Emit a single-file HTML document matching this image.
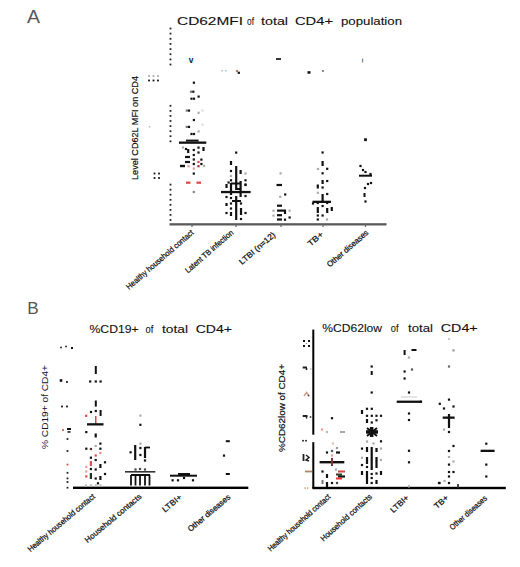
<!DOCTYPE html>
<html><head><meta charset="utf-8"><style>
html,body{margin:0;padding:0;background:#fff;width:520px;height:567px;overflow:hidden}
svg{display:block}
text{font-family:"Liberation Sans",sans-serif}
</style></head><body>
<svg width="520" height="567" viewBox="0 0 520 567">
<rect width="520" height="567" fill="#fff"/>
<text x="27" y="23" font-size="18.5" font-weight="normal" fill="#555" text-anchor="start" textLength="13" lengthAdjust="spacingAndGlyphs">A</text>
<text x="27.3" y="314" font-size="16" font-weight="normal" fill="#555" text-anchor="start" textLength="11.4" lengthAdjust="spacingAndGlyphs">B</text>
<text x="177" y="25.1" font-size="11.3" font-weight="normal" fill="#111" text-anchor="start" textLength="66" lengthAdjust="spacingAndGlyphs" stroke="#111" stroke-width="0.1">CD62MFI</text>
<text x="247" y="25.1" font-size="11.3" font-weight="normal" fill="#111" text-anchor="start" textLength="7" lengthAdjust="spacingAndGlyphs" stroke="#111" stroke-width="0.1">of</text>
<text x="261" y="25.1" font-size="11.3" font-weight="normal" fill="#111" text-anchor="start" textLength="27" lengthAdjust="spacingAndGlyphs" stroke="#111" stroke-width="0.1">total</text>
<text x="295" y="25.1" font-size="11.3" font-weight="normal" fill="#111" text-anchor="start" textLength="38" lengthAdjust="spacingAndGlyphs" stroke="#111" stroke-width="0.1">CD4+</text>
<text x="341" y="25.1" font-size="11.3" font-weight="normal" fill="#111" text-anchor="start" textLength="61" lengthAdjust="spacingAndGlyphs" stroke="#111" stroke-width="0.1">population</text>
<rect x="169.6" y="27.6" width="1.8" height="1.8" fill="#222"/>
<rect x="169.6" y="32.7" width="1.8" height="1.8" fill="#222"/>
<rect x="169.6" y="37.9" width="1.8" height="1.8" fill="#222"/>
<rect x="169.6" y="43.0" width="1.8" height="1.8" fill="#222"/>
<rect x="169.6" y="48.2" width="1.8" height="1.8" fill="#222"/>
<rect x="169.6" y="53.3" width="1.8" height="1.8" fill="#222"/>
<rect x="169.6" y="58.5" width="1.8" height="1.8" fill="#222"/>
<rect x="169.6" y="63.6" width="1.8" height="1.8" fill="#222"/>
<rect x="169.6" y="104.9" width="1.8" height="1.8" fill="#222"/>
<rect x="169.6" y="110.0" width="1.8" height="1.8" fill="#222"/>
<rect x="169.6" y="115.0" width="1.8" height="1.8" fill="#222"/>
<rect x="169.6" y="120.1" width="1.8" height="1.8" fill="#222"/>
<rect x="169.6" y="125.2" width="1.8" height="1.8" fill="#222"/>
<rect x="169.6" y="130.3" width="1.8" height="1.8" fill="#222"/>
<rect x="169.6" y="135.3" width="1.8" height="1.8" fill="#222"/>
<rect x="169.6" y="140.4" width="1.8" height="1.8" fill="#222"/>
<rect x="169.6" y="183.7" width="1.8" height="1.8" fill="#222"/>
<rect x="169.6" y="188.8" width="1.8" height="1.8" fill="#222"/>
<rect x="169.6" y="193.8" width="1.8" height="1.8" fill="#222"/>
<rect x="169.6" y="198.9" width="1.8" height="1.8" fill="#222"/>
<rect x="169.6" y="203.9" width="1.8" height="1.8" fill="#222"/>
<rect x="169.6" y="209.0" width="1.8" height="1.8" fill="#222"/>
<rect x="169.6" y="214.0" width="1.8" height="1.8" fill="#222"/>
<rect x="169.6" y="219.1" width="1.8" height="1.8" fill="#222"/>
<rect x="169.5" y="223.2" width="217.0" height="2.3" fill="#5a5a5a"/>
<rect x="191.4" y="224.0" width="1.2" height="3.0" fill="#666"/>
<rect x="235.4" y="224.0" width="1.2" height="3.0" fill="#666"/>
<rect x="280.4" y="224.0" width="1.2" height="3.0" fill="#666"/>
<rect x="322.4" y="224.0" width="1.2" height="3.0" fill="#666"/>
<rect x="364.9" y="224.0" width="1.2" height="3.0" fill="#666"/>
<text x="137.8" y="180" font-size="9.5" font-weight="normal" fill="#111" text-anchor="start" textLength="104" lengthAdjust="spacingAndGlyphs" transform="rotate(-90 137.8 180)" stroke="#111" stroke-width="0.2">Level CD62L MFI on CD4</text>
<rect x="148.1" y="75.1" width="1.8" height="1.8" fill="#aaa"/>
<rect x="152.6" y="75.1" width="1.8" height="1.8" fill="#aaa"/>
<rect x="157.1" y="75.1" width="1.8" height="1.8" fill="#aaa"/>
<rect x="148.1" y="79.6" width="1.8" height="1.8" fill="#111"/>
<rect x="152.6" y="79.6" width="1.8" height="1.8" fill="#111"/>
<rect x="157.1" y="79.6" width="1.8" height="1.8" fill="#111"/>
<rect x="153.6" y="172.6" width="1.8" height="1.8" fill="#111"/>
<rect x="158.1" y="172.6" width="1.8" height="1.8" fill="#111"/>
<rect x="153.6" y="177.1" width="1.8" height="1.8" fill="#111"/>
<rect x="158.1" y="177.1" width="1.8" height="1.8" fill="#111"/>
<rect x="148.8" y="126.0" width="1.5" height="1.5" fill="#bbb"/>
<text x="191" y="62.5" font-size="8.5" font-weight="bold" fill="#123" text-anchor="middle">v</text>
<rect x="221.2" y="70.0" width="1.5" height="1.5" fill="#bbb"/>
<rect x="225.2" y="70.0" width="1.5" height="1.5" fill="#9cc"/>
<rect x="235.9" y="69.9" width="2.2" height="2.2" fill="#a86"/>
<rect x="237.7" y="71.7" width="2.2" height="2.2" fill="#111"/>
<rect x="276.0" y="58.1" width="5.0" height="1.8" fill="#222"/>
<rect x="307.5" y="71.2" width="3.0" height="2.5" fill="#111"/>
<rect x="322.2" y="70.2" width="1.5" height="1.5" fill="#333"/>
<rect x="361.9" y="58.5" width="1.3" height="4.0" fill="#7788aa"/>
<rect x="192.8" y="81.6" width="2.2" height="2.2" fill="#111"/>
<rect x="192.2" y="90.6" width="2.2" height="2.2" fill="#111"/>
<rect x="189.9" y="90.6" width="2.2" height="2.2" fill="#777"/>
<rect x="197.5" y="95.5" width="2.2" height="2.2" fill="#111"/>
<rect x="190.4" y="97.6" width="2.2" height="2.2" fill="#111"/>
<rect x="192.9" y="97.6" width="2.2" height="2.2" fill="#111"/>
<rect x="187.9" y="109.5" width="2.2" height="2.2" fill="#111"/>
<rect x="185.7" y="109.5" width="2.2" height="2.2" fill="#777"/>
<rect x="197.5" y="111.7" width="2.2" height="2.2" fill="#aaa"/>
<rect x="201.4" y="109.4" width="2.2" height="2.2" fill="#ddd"/>
<rect x="192.8" y="118.9" width="2.2" height="2.2" fill="#111"/>
<rect x="187.9" y="125.8" width="2.2" height="2.2" fill="#111"/>
<rect x="185.7" y="125.8" width="2.2" height="2.2" fill="#777"/>
<rect x="201.4" y="123.5" width="2.2" height="2.2" fill="#ddd"/>
<rect x="197.5" y="130.3" width="2.2" height="2.2" fill="#aaa"/>
<rect x="190.4" y="132.9" width="2.2" height="2.2" fill="#111"/>
<rect x="192.9" y="132.9" width="2.2" height="2.2" fill="#111"/>
<rect x="181.9" y="146.4" width="2.2" height="2.2" fill="#aaa"/>
<rect x="184.9" y="147.9" width="2.2" height="2.2" fill="#111"/>
<rect x="192.7" y="148.9" width="2.2" height="2.2" fill="#111"/>
<rect x="197.4" y="146.5" width="2.2" height="2.2" fill="#111"/>
<rect x="192.7" y="153.9" width="2.2" height="2.2" fill="#111"/>
<rect x="197.4" y="151.4" width="2.2" height="2.2" fill="#111"/>
<rect x="192.7" y="158.4" width="2.2" height="2.2" fill="#111"/>
<rect x="200.3" y="158.5" width="2.2" height="2.2" fill="#111"/>
<rect x="197.4" y="160.9" width="2.2" height="2.2" fill="#e0483c"/>
<rect x="192.7" y="162.9" width="2.2" height="2.2" fill="#111"/>
<rect x="200.3" y="162.9" width="2.2" height="2.2" fill="#111"/>
<rect x="187.4" y="165.1" width="2.2" height="2.2" fill="#e99"/>
<rect x="192.7" y="167.5" width="2.2" height="2.2" fill="#e99"/>
<rect x="197.4" y="165.1" width="2.2" height="2.2" fill="#933"/>
<rect x="202.9" y="164.9" width="2.2" height="2.2" fill="#9b9"/>
<rect x="192.7" y="172.5" width="2.2" height="2.2" fill="#111"/>
<rect x="192.7" y="190.9" width="2.2" height="2.2" fill="#888"/>
<rect x="187.1" y="149.0" width="2.2" height="4.0" fill="#111"/>
<rect x="202.4" y="147.0" width="2.2" height="4.0" fill="#111"/>
<rect x="185.0" y="155.9" width="5.0" height="2.2" fill="#111"/>
<rect x="185.0" y="160.9" width="5.0" height="2.2" fill="#111"/>
<rect x="180.0" y="164.8" width="5.0" height="2.4" fill="#111"/>
<rect x="186.0" y="181.6" width="4.5" height="2.2" fill="#e0483c"/>
<rect x="196.5" y="181.6" width="4.5" height="2.2" fill="#e0483c"/>
<rect x="179.0" y="141.5" width="27.3" height="2.3" fill="#111"/>
<rect x="186.0" y="139.6" width="12.6" height="2" fill="#111"/>
<rect x="235.1" y="151.5" width="2.2" height="2.2" fill="#111"/>
<rect x="229.9" y="169.9" width="2.2" height="2.2" fill="#111"/>
<rect x="244.4" y="172.4" width="2.2" height="2.2" fill="#aaa"/>
<rect x="229.9" y="174.9" width="2.2" height="2.2" fill="#aaa"/>
<rect x="229.9" y="179.2" width="2.2" height="2.2" fill="#111"/>
<rect x="244.4" y="179.2" width="2.2" height="2.2" fill="#111"/>
<rect x="227.5" y="181.4" width="2.2" height="2.2" fill="#111"/>
<rect x="244.4" y="183.9" width="2.2" height="2.2" fill="#111"/>
<rect x="244.4" y="183.4" width="2.2" height="2.2" fill="#111"/>
<rect x="229.9" y="202.4" width="2.2" height="2.2" fill="#111"/>
<rect x="239.9" y="202.4" width="2.2" height="2.2" fill="#111"/>
<rect x="229.9" y="207.4" width="2.2" height="2.2" fill="#111"/>
<rect x="225.4" y="211.9" width="2.2" height="2.2" fill="#111"/>
<rect x="244.4" y="211.9" width="2.2" height="2.2" fill="#111"/>
<rect x="239.9" y="217.9" width="2.2" height="2.2" fill="#111"/>
<rect x="225.4" y="195.9" width="2.2" height="2.2" fill="#111"/>
<rect x="244.4" y="194.9" width="2.2" height="2.2" fill="#111"/>
<rect x="229.9" y="196.9" width="2.2" height="2.2" fill="#111"/>
<rect x="229.9" y="161.0" width="2.2" height="4.0" fill="#111"/>
<rect x="235.1" y="166.0" width="2.2" height="24.0" fill="#111"/>
<rect x="239.5" y="170.0" width="2.2" height="4.0" fill="#111"/>
<rect x="225.4" y="184.0" width="2.2" height="4.0" fill="#111"/>
<rect x="229.9" y="183.0" width="2.2" height="12.0" fill="#111"/>
<rect x="239.5" y="181.0" width="2.2" height="16.0" fill="#111"/>
<rect x="231.0" y="182.5" width="10.0" height="2" fill="#111"/>
<rect x="236.0" y="188.0" width="5.0" height="2" fill="#111"/>
<rect x="235.1" y="196.0" width="2.2" height="24.0" fill="#111"/>
<rect x="232.0" y="200.0" width="9.0" height="2" fill="#111"/>
<rect x="225.4" y="203.0" width="2.2" height="3.0" fill="#111"/>
<rect x="239.9" y="208.0" width="2.2" height="7.0" fill="#111"/>
<rect x="229.9" y="212.0" width="2.2" height="4.0" fill="#111"/>
<rect x="221.0" y="190.9" width="29.6" height="2.3" fill="#111"/>
<rect x="279.5" y="172.3" width="2.2" height="2.2" fill="#aaa"/>
<rect x="284.1" y="193.4" width="2.2" height="2.2" fill="#111"/>
<rect x="279.1" y="195.7" width="2.2" height="2.2" fill="#aaa"/>
<rect x="272.4" y="209.6" width="2.2" height="2.2" fill="#aaa"/>
<rect x="288.5" y="209.6" width="2.2" height="2.2" fill="#aaa"/>
<rect x="272.4" y="214.5" width="2.2" height="2.2" fill="#aaa"/>
<rect x="288.5" y="216.4" width="2.2" height="2.2" fill="#111"/>
<rect x="283.9" y="218.6" width="2.2" height="2.2" fill="#111"/>
<rect x="276.5" y="183.9" width="5.5" height="2.2" fill="#111"/>
<rect x="277.0" y="204.6" width="5.0" height="2.2" fill="#111"/>
<rect x="277.0" y="209.5" width="9.0" height="2.2" fill="#111"/>
<rect x="283.9" y="210.0" width="2.2" height="4.0" fill="#111"/>
<rect x="277.0" y="214.1" width="5.0" height="2.2" fill="#111"/>
<rect x="277.0" y="218.4" width="5.0" height="2.2" fill="#111"/>
<rect x="321.5" y="151.4" width="2.2" height="2.2" fill="#111"/>
<rect x="316.9" y="167.9" width="2.2" height="2.2" fill="#aaa"/>
<rect x="326.1" y="167.7" width="2.2" height="2.2" fill="#111"/>
<rect x="321.5" y="172.2" width="2.2" height="2.2" fill="#111"/>
<rect x="326.1" y="179.9" width="2.2" height="2.2" fill="#111"/>
<rect x="321.5" y="186.4" width="2.2" height="2.2" fill="#111"/>
<rect x="316.7" y="191.7" width="2.2" height="2.2" fill="#aaa"/>
<rect x="326.1" y="192.9" width="2.2" height="2.2" fill="#111"/>
<rect x="311.9" y="202.4" width="2.2" height="2.2" fill="#111"/>
<rect x="316.7" y="201.9" width="2.2" height="2.2" fill="#111"/>
<rect x="326.1" y="201.9" width="2.2" height="2.2" fill="#111"/>
<rect x="321.5" y="204.9" width="2.2" height="2.2" fill="#111"/>
<rect x="316.7" y="214.4" width="2.2" height="2.2" fill="#111"/>
<rect x="321.5" y="214.4" width="2.2" height="2.2" fill="#111"/>
<rect x="316.7" y="218.4" width="2.2" height="2.2" fill="#111"/>
<rect x="325.9" y="218.4" width="2.2" height="2.2" fill="#aaa"/>
<rect x="321.5" y="161.0" width="2.2" height="5.0" fill="#111"/>
<rect x="321.5" y="180.0" width="2.2" height="4.0" fill="#111"/>
<rect x="316.7" y="184.5" width="2.2" height="4.0" fill="#111"/>
<rect x="321.5" y="194.0" width="2.2" height="7.0" fill="#111"/>
<rect x="316.7" y="207.0" width="2.2" height="6.0" fill="#111"/>
<rect x="326.1" y="208.0" width="2.2" height="5.0" fill="#111"/>
<rect x="330.7" y="207.0" width="2.2" height="4.0" fill="#111"/>
<rect x="312.5" y="200.7" width="18.5" height="2.3" fill="#111"/>
<rect x="364.1" y="138.3" width="2.8" height="2.8" fill="#111"/>
<rect x="359.4" y="164.9" width="2.2" height="2.2" fill="#111"/>
<rect x="361.9" y="168.9" width="2.2" height="2.2" fill="#111"/>
<rect x="364.4" y="170.9" width="2.2" height="2.2" fill="#111"/>
<rect x="369.4" y="172.9" width="2.2" height="2.2" fill="#111"/>
<rect x="366.9" y="182.9" width="2.2" height="2.2" fill="#111"/>
<rect x="369.9" y="181.9" width="2.2" height="2.2" fill="#111"/>
<rect x="363.9" y="186.9" width="2.2" height="2.2" fill="#111"/>
<rect x="364.4" y="200.4" width="2.2" height="2.2" fill="#111"/>
<rect x="363.5" y="193.0" width="2" height="4.0" fill="#111"/>
<rect x="359.0" y="174.7" width="13.0" height="2" fill="#111"/>
<text x="194" y="233.5" font-size="8" font-weight="normal" fill="#111" text-anchor="end" textLength="86" lengthAdjust="spacingAndGlyphs" transform="rotate(-41 194 233.5)" stroke="#111" stroke-width="0.25">Healthy household contact</text>
<text x="234" y="233.5" font-size="8" font-weight="normal" fill="#111" text-anchor="end" textLength="61" lengthAdjust="spacingAndGlyphs" transform="rotate(-41 234 233.5)" stroke="#111" stroke-width="0.25">Latent TB infection</text>
<text x="276" y="235.5" font-size="8" font-weight="normal" fill="#111" text-anchor="end" textLength="45" lengthAdjust="spacingAndGlyphs" transform="rotate(-41 276 235.5)" stroke="#111" stroke-width="0.25">LTBI (n=12)</text>
<text x="324" y="235" font-size="8" font-weight="normal" fill="#111" text-anchor="end" textLength="18" lengthAdjust="spacingAndGlyphs" transform="rotate(-41 324 235)" stroke="#111" stroke-width="0.25">TB+</text>
<text x="369" y="233.5" font-size="8" font-weight="normal" fill="#111" text-anchor="end" textLength="52" lengthAdjust="spacingAndGlyphs" transform="rotate(-41 369 233.5)" stroke="#111" stroke-width="0.25">Other diseases</text>
<text x="89.5" y="332.5" font-size="10.6" font-weight="normal" fill="#111" text-anchor="start" textLength="49.099999999999994" lengthAdjust="spacingAndGlyphs" stroke="#111" stroke-width="0.1">%CD19+</text>
<text x="145.5" y="332.5" font-size="10.6" font-weight="normal" fill="#111" text-anchor="start" textLength="7.800000000000011" lengthAdjust="spacingAndGlyphs" stroke="#111" stroke-width="0.1">of</text>
<text x="162" y="332.5" font-size="10.6" font-weight="normal" fill="#111" text-anchor="start" textLength="26" lengthAdjust="spacingAndGlyphs" stroke="#111" stroke-width="0.1">total</text>
<text x="195.7" y="332.5" font-size="10.6" font-weight="normal" fill="#111" text-anchor="start" textLength="36.30000000000001" lengthAdjust="spacingAndGlyphs" stroke="#111" stroke-width="0.1">CD4+</text>
<text x="47.6" y="449" font-size="9.5" font-weight="normal" fill="#113" text-anchor="start" textLength="84" lengthAdjust="spacingAndGlyphs" transform="rotate(-90 47.6 449)">% CD19+ of CD4+</text>
<rect x="60.2" y="346.7" width="1.6" height="1.6" fill="#111"/>
<rect x="65.2" y="345.7" width="1.6" height="1.6" fill="#111"/>
<rect x="71.0" y="347.0" width="2.0" height="2.0" fill="#111"/>
<rect x="59.7" y="379.2" width="2.6" height="2.6" fill="#111"/>
<rect x="66.1" y="381.1" width="1.8" height="1.8" fill="#111"/>
<rect x="61.1" y="405.6" width="1.8" height="1.8" fill="#111"/>
<rect x="66.1" y="405.6" width="1.8" height="1.8" fill="#111"/>
<rect x="62.1" y="429.1" width="1.8" height="1.8" fill="#e0483c"/>
<rect x="67.0" y="428.0" width="4.0" height="2.0" fill="#111"/>
<rect x="67.5" y="431.2" width="3.0" height="1.5" fill="#111"/>
<rect x="66.6" y="438.1" width="1.8" height="1.8" fill="#222"/>
<rect x="66.6" y="450.1" width="1.8" height="1.8" fill="#222"/>
<rect x="66.6" y="463.7" width="1.8" height="1.8" fill="#e0483c"/>
<rect x="66.6" y="471.9" width="1.8" height="1.8" fill="#222"/>
<rect x="66.6" y="477.5" width="1.8" height="1.8" fill="#222"/>
<rect x="66.6" y="481.1" width="1.8" height="1.8" fill="#222"/>
<rect x="66.6" y="486.8" width="1.8" height="1.8" fill="#222"/>
<rect x="73.0" y="486.6" width="175.3" height="2.4" fill="#000"/>
<rect x="89.1" y="380.4" width="2.2" height="2.2" fill="#111"/>
<rect x="94.7" y="380.4" width="2.2" height="2.2" fill="#111"/>
<rect x="99.5" y="380.4" width="2.2" height="2.2" fill="#111"/>
<rect x="85.1" y="414.7" width="2.2" height="2.2" fill="#e0483c"/>
<rect x="85.2" y="431.0" width="2.2" height="2.2" fill="#111"/>
<rect x="99.3" y="442.5" width="2.2" height="2.2" fill="#111"/>
<rect x="85.2" y="447.6" width="2.2" height="2.2" fill="#111"/>
<rect x="89.8" y="447.9" width="2.2" height="2.2" fill="#533"/>
<rect x="94.6" y="444.9" width="2.2" height="2.2" fill="#aaa"/>
<rect x="99.3" y="447.6" width="2.2" height="2.2" fill="#111"/>
<rect x="99.3" y="451.9" width="2.2" height="2.2" fill="#e88"/>
<rect x="94.6" y="454.4" width="2.2" height="2.2" fill="#e0483c"/>
<rect x="89.8" y="456.6" width="2.2" height="2.2" fill="#111"/>
<rect x="94.6" y="458.9" width="2.2" height="2.2" fill="#111"/>
<rect x="103.9" y="461.2" width="2.2" height="2.2" fill="#111"/>
<rect x="85.2" y="465.9" width="2.2" height="2.2" fill="#e99"/>
<rect x="89.8" y="467.9" width="2.2" height="2.2" fill="#111"/>
<rect x="94.6" y="468.4" width="2.2" height="2.2" fill="#111"/>
<rect x="85.2" y="470.4" width="2.2" height="2.2" fill="#e99"/>
<rect x="85.2" y="475.3" width="2.2" height="2.2" fill="#e0483c"/>
<rect x="94.6" y="477.4" width="2.2" height="2.2" fill="#111"/>
<rect x="103.9" y="472.9" width="2.2" height="2.2" fill="#111"/>
<rect x="96.9" y="482.2" width="2.2" height="2.2" fill="#111"/>
<rect x="84.9" y="484.4" width="2.2" height="2.2" fill="#bbb"/>
<rect x="89.9" y="484.4" width="2.2" height="2.2" fill="#bbb"/>
<rect x="94.9" y="484.4" width="2.2" height="2.2" fill="#bbb"/>
<rect x="99.4" y="484.4" width="2.2" height="2.2" fill="#bbb"/>
<rect x="94.8" y="366.0" width="2" height="8.0" fill="#111"/>
<rect x="94.8" y="400.5" width="2" height="6.1" fill="#111"/>
<rect x="99.6" y="410.0" width="2" height="6.0" fill="#111"/>
<rect x="95.0" y="416.0" width="1.5" height="9.0" fill="#e0483c"/>
<rect x="94.6" y="433.5" width="2.2" height="4.0" fill="#111"/>
<rect x="89.8" y="461.0" width="2.2" height="5.0" fill="#d55"/>
<rect x="99.3" y="464.0" width="2.2" height="4.0" fill="#111"/>
<rect x="89.8" y="473.0" width="2.2" height="6.0" fill="#132"/>
<rect x="99.3" y="476.0" width="2.2" height="4.0" fill="#111"/>
<rect x="89.9" y="410.9" width="2.2" height="2.2" fill="#111"/>
<rect x="94.7" y="409.9" width="2.2" height="2.2" fill="#111"/>
<rect x="87.0" y="423.2" width="16.5" height="2.3" fill="#111"/>
<rect x="139.3" y="423.7" width="2.2" height="2.2" fill="#111"/>
<rect x="139.3" y="414.5" width="2.2" height="2.2" fill="#aaa"/>
<rect x="139.3" y="442.5" width="2.2" height="2.2" fill="#aaa"/>
<rect x="129.5" y="451.2" width="2.2" height="2.2" fill="#111"/>
<rect x="139.3" y="446.9" width="2.2" height="2.2" fill="#111"/>
<rect x="139.3" y="453.9" width="2.2" height="2.2" fill="#111"/>
<rect x="143.9" y="459.4" width="2.2" height="2.2" fill="#111"/>
<rect x="134.4" y="468.4" width="2.2" height="2.2" fill="#444"/>
<rect x="138.9" y="467.9" width="2.2" height="2.2" fill="#444"/>
<rect x="143.9" y="468.4" width="2.2" height="2.2" fill="#444"/>
<rect x="134.1" y="445.0" width="2.2" height="15.0" fill="#111"/>
<rect x="143.9" y="447.0" width="2.2" height="11.0" fill="#111"/>
<rect x="145.0" y="446.6" width="5.0" height="1.8" fill="#111"/>
<rect x="125.0" y="471.0" width="30.3" height="1.6" fill="#333"/>
<rect x="131.0" y="474.0" width="19.0" height="2" fill="#111"/>
<rect x="130.1" y="475.0" width="1.8" height="10.5" fill="#111"/>
<rect x="134.6" y="475.0" width="1.8" height="10.5" fill="#111"/>
<rect x="139.1" y="475.0" width="1.8" height="10.5" fill="#111"/>
<rect x="144.1" y="475.0" width="1.8" height="10.5" fill="#111"/>
<rect x="148.6" y="475.0" width="1.8" height="10.5" fill="#111"/>
<rect x="171.5" y="479.2" width="2.2" height="2.2" fill="#111"/>
<rect x="176.9" y="479.2" width="2.2" height="2.2" fill="#111"/>
<rect x="191.9" y="479.2" width="2.2" height="2.2" fill="#111"/>
<rect x="182.9" y="476.9" width="2.2" height="2.2" fill="#111"/>
<rect x="170.0" y="474.7" width="27.0" height="2" fill="#111"/>
<rect x="178.0" y="473.0" width="12.0" height="2" fill="#111"/>
<rect x="225.8" y="440.2" width="4.0" height="2.0" fill="#111"/>
<rect x="222.9" y="454.5" width="2.2" height="2.2" fill="#111"/>
<rect x="225.8" y="473.0" width="4.0" height="2.0" fill="#111"/>
<text x="95.5" y="497.5" font-size="8" font-weight="normal" fill="#111" text-anchor="end" textLength="85" lengthAdjust="spacingAndGlyphs" transform="rotate(-40 95.5 497.5)" stroke="#111" stroke-width="0.25">Healthy household contact</text>
<text x="142" y="497.5" font-size="8" font-weight="normal" fill="#111" text-anchor="end" textLength="71" lengthAdjust="spacingAndGlyphs" transform="rotate(-40 142 497.5)" stroke="#111" stroke-width="0.25">Household contacts</text>
<text x="182.5" y="498" font-size="8" font-weight="normal" fill="#111" text-anchor="end" textLength="23" lengthAdjust="spacingAndGlyphs" transform="rotate(-40 182.5 498)" stroke="#111" stroke-width="0.25">LTBI+</text>
<text x="231" y="498" font-size="8" font-weight="normal" fill="#111" text-anchor="end" textLength="53" lengthAdjust="spacingAndGlyphs" transform="rotate(-40 231 498)" stroke="#111" stroke-width="0.25">Other diseases</text>
<text x="322.3" y="332.3" font-size="10.6" font-weight="normal" fill="#111" text-anchor="start" textLength="59.69999999999999" lengthAdjust="spacingAndGlyphs" stroke="#111" stroke-width="0.1">%CD62low</text>
<text x="390.7" y="332.3" font-size="10.6" font-weight="normal" fill="#111" text-anchor="start" textLength="7.800000000000011" lengthAdjust="spacingAndGlyphs" stroke="#111" stroke-width="0.1">of</text>
<text x="408" y="332.3" font-size="10.6" font-weight="normal" fill="#111" text-anchor="start" textLength="25" lengthAdjust="spacingAndGlyphs" stroke="#111" stroke-width="0.1">total</text>
<text x="440.8" y="332.3" font-size="10.6" font-weight="normal" fill="#111" text-anchor="start" textLength="36.89999999999998" lengthAdjust="spacingAndGlyphs" stroke="#111" stroke-width="0.1">CD4+</text>
<text x="285" y="452" font-size="9.5" font-weight="normal" fill="#111" text-anchor="start" textLength="88" lengthAdjust="spacingAndGlyphs" transform="rotate(-90 285 452)" stroke="#111" stroke-width="0.2">%CD62low of CD4+</text>
<rect x="312.3" y="329.6" width="2" height="105.1" fill="#000"/>
<rect x="312.3" y="442.2" width="2" height="45.8" fill="#000"/>
<rect x="312.3" y="486.8" width="193.5" height="2.4" fill="#000"/>
<rect x="408.4" y="485.0" width="1.2" height="3.0" fill="#999"/>
<rect x="457.2" y="484.0" width="1.6" height="4.0" fill="#222"/>
<rect x="303.0" y="340.0" width="2.0" height="2.0" fill="#111"/>
<rect x="308.0" y="340.0" width="2.0" height="2.0" fill="#111"/>
<rect x="303.0" y="345.0" width="2.0" height="2.0" fill="#111"/>
<rect x="308.0" y="345.0" width="2.0" height="2.0" fill="#111"/>
<rect x="305.9" y="342.9" width="1.2" height="1.2" fill="#888"/>
<rect x="302.7" y="366.5" width="4.3" height="2" fill="#222"/>
<rect x="305.8" y="368.0" width="1.5" height="2.0" fill="#222"/>
<rect x="310.2" y="368.4" width="1.2" height="1.2" fill="#999"/>
<path d="M304 396 L306.5 392.5 L309 396" stroke="#c98" stroke-width="1.4" fill="none"/>
<rect x="307.8" y="394.8" width="1.5" height="1.5" fill="#444"/>
<rect x="302.7" y="415.0" width="4.8" height="2" fill="#222"/>
<rect x="305.8" y="416.5" width="1.5" height="2.0" fill="#222"/>
<rect x="309.7" y="416.2" width="1.6" height="1.6" fill="#333"/>
<rect x="302.2" y="439.9" width="1.6" height="1.6" fill="#111"/>
<rect x="305.2" y="439.9" width="1.6" height="1.6" fill="#111"/>
<rect x="302.6" y="454.0" width="1.8" height="7.0" fill="#222"/>
<path d="M306 455 L309 457.5 L306 460 L309 461" stroke="#222" stroke-width="1.5" fill="none"/>
<rect x="305.0" y="470.6" width="7.0" height="1.8" fill="#a86"/>
<rect x="304.4" y="487.4" width="1.3" height="1.3" fill="#b86"/>
<rect x="306.9" y="487.4" width="1.3" height="1.3" fill="#b86"/>
<rect x="330.9" y="417.1" width="2.2" height="2.2" fill="#111"/>
<rect x="320.9" y="428.4" width="2.2" height="2.2" fill="#e99"/>
<rect x="325.9" y="430.9" width="2.2" height="2.2" fill="#bbb"/>
<rect x="331.9" y="442.4" width="2.2" height="2.2" fill="#dbb"/>
<rect x="335.9" y="446.9" width="2.2" height="2.2" fill="#999"/>
<rect x="325.9" y="451.4" width="2.2" height="2.2" fill="#111"/>
<rect x="330.9" y="449.9" width="2.2" height="2.2" fill="#555"/>
<rect x="330.9" y="454.4" width="2.2" height="2.2" fill="#e99"/>
<rect x="321.4" y="470.4" width="2.2" height="2.2" fill="#111"/>
<rect x="334.9" y="468.5" width="2.2" height="2.2" fill="#aaa"/>
<rect x="330.9" y="481.9" width="2.2" height="2.2" fill="#111"/>
<rect x="335.9" y="481.9" width="2.2" height="2.2" fill="#444"/>
<rect x="340.0" y="431.0" width="5.0" height="2" fill="#aaa"/>
<rect x="336.0" y="451.4" width="4.0" height="2.2" fill="#111"/>
<rect x="319.6" y="461.0" width="24.7" height="2.4" fill="#111"/>
<rect x="331.0" y="458.0" width="2" height="8.0" fill="#833"/>
<rect x="325.9" y="474.0" width="2.2" height="4.0" fill="#111"/>
<rect x="338.0" y="470.5" width="7.0" height="2" fill="#d44"/>
<rect x="336.0" y="473.5" width="6.0" height="2" fill="#242"/>
<rect x="338.0" y="475.4" width="7.0" height="2.2" fill="#111"/>
<rect x="336.0" y="477.5" width="6.0" height="2" fill="#e33"/>
<rect x="321.5" y="480.0" width="2" height="4.0" fill="#777"/>
<rect x="325.9" y="482.0" width="2.2" height="5.0" fill="#111"/>
<rect x="370.6" y="365.4" width="2.2" height="2.2" fill="#111"/>
<rect x="370.6" y="391.4" width="2.2" height="2.2" fill="#111"/>
<rect x="365.9" y="407.7" width="2.2" height="2.2" fill="#111"/>
<rect x="370.7" y="407.7" width="2.2" height="2.2" fill="#111"/>
<rect x="365.9" y="414.7" width="2.2" height="2.2" fill="#111"/>
<rect x="370.7" y="414.7" width="2.2" height="2.2" fill="#111"/>
<rect x="375.4" y="414.7" width="2.2" height="2.2" fill="#111"/>
<rect x="379.9" y="414.7" width="2.2" height="2.2" fill="#111"/>
<rect x="370.7" y="421.4" width="2.2" height="2.2" fill="#111"/>
<rect x="375.4" y="419.2" width="2.2" height="2.2" fill="#111"/>
<rect x="365.9" y="440.4" width="2.2" height="2.2" fill="#aaa"/>
<rect x="379.9" y="440.2" width="2.2" height="2.2" fill="#111"/>
<rect x="372.4" y="442.4" width="2.2" height="2.2" fill="#aaa"/>
<rect x="360.9" y="447.5" width="2.2" height="2.2" fill="#111"/>
<rect x="379.9" y="447.5" width="2.2" height="2.2" fill="#aaa"/>
<rect x="360.9" y="456.7" width="2.2" height="2.2" fill="#aaa"/>
<rect x="379.9" y="458.9" width="2.2" height="2.2" fill="#aaa"/>
<rect x="360.9" y="463.9" width="2.2" height="2.2" fill="#111"/>
<rect x="365.9" y="465.9" width="2.2" height="2.2" fill="#111"/>
<rect x="370.6" y="472.9" width="2.2" height="2.2" fill="#111"/>
<rect x="370.6" y="476.9" width="2.2" height="2.2" fill="#111"/>
<rect x="370.6" y="481.9" width="2.2" height="2.2" fill="#111"/>
<rect x="375.4" y="472.4" width="2.2" height="2.2" fill="#111"/>
<rect x="370.7" y="371.0" width="2" height="4.0" fill="#111"/>
<rect x="360.9" y="410.0" width="2.2" height="4.0" fill="#111"/>
<rect x="365.9" y="419.0" width="2.2" height="4.0" fill="#111"/>
<rect x="365.9" y="447.0" width="2.2" height="5.0" fill="#111"/>
<rect x="370.6" y="447.0" width="2.2" height="23.0" fill="#111"/>
<rect x="375.4" y="448.0" width="2.2" height="4.0" fill="#111"/>
<rect x="365.9" y="457.0" width="2.2" height="7.0" fill="#111"/>
<rect x="375.4" y="457.0" width="2.2" height="11.0" fill="#111"/>
<rect x="360.9" y="471.0" width="2.2" height="4.0" fill="#111"/>
<rect x="365.9" y="471.0" width="2.2" height="13.0" fill="#111"/>
<rect x="379.9" y="471.0" width="2.2" height="4.0" fill="#111"/>
<rect x="375.4" y="480.0" width="2.2" height="4.0" fill="#111"/>
<rect x="366.0" y="430.2" width="12.0" height="3.5" fill="#111"/>
<rect x="369.9" y="427.0" width="3.5" height="10.0" fill="#111"/>
<path d="M367 428 L377 436 M377 428 L367 436" stroke="#111" stroke-width="2"/>
<rect x="411.5" y="349.0" width="5.0" height="2.0" fill="#111"/>
<rect x="407.9" y="356.4" width="2.2" height="2.2" fill="#aaa"/>
<rect x="403.5" y="370.4" width="2.2" height="2.2" fill="#111"/>
<rect x="410.9" y="368.4" width="2.2" height="2.2" fill="#555"/>
<rect x="403.5" y="377.4" width="2.2" height="2.2" fill="#111"/>
<rect x="407.9" y="391.4" width="2.2" height="2.2" fill="#111"/>
<rect x="407.9" y="412.4" width="2.2" height="2.2" fill="#111"/>
<rect x="407.9" y="418.9" width="2.2" height="2.2" fill="#111"/>
<rect x="407.9" y="449.7" width="2.2" height="2.2" fill="#111"/>
<rect x="407.9" y="461.2" width="2.2" height="2.2" fill="#111"/>
<rect x="403.6" y="350.0" width="2" height="5.0" fill="#111"/>
<rect x="396.7" y="400.6" width="25.0" height="2.3" fill="#111"/>
<rect x="401.0" y="396.5" width="16.0" height="1" fill="#ccc"/>
<rect x="452.4" y="349.3" width="2.2" height="2.2" fill="#999"/>
<rect x="447.9" y="365.4" width="2.2" height="2.2" fill="#666"/>
<rect x="447.9" y="337.9" width="2.2" height="2.2" fill="#ccc"/>
<rect x="447.9" y="398.5" width="2.2" height="2.2" fill="#111"/>
<rect x="438.7" y="402.7" width="2.2" height="2.2" fill="#111"/>
<rect x="442.9" y="407.4" width="2.2" height="2.2" fill="#111"/>
<rect x="452.4" y="405.4" width="2.2" height="2.2" fill="#111"/>
<rect x="419.9" y="400.6" width="2.2" height="2.2" fill="#111"/>
<rect x="442.9" y="428.5" width="2.2" height="2.2" fill="#aaa"/>
<rect x="447.9" y="430.9" width="2.2" height="2.2" fill="#111"/>
<rect x="452.4" y="444.9" width="2.2" height="2.2" fill="#111"/>
<rect x="447.9" y="449.9" width="2.2" height="2.2" fill="#111"/>
<rect x="447.9" y="455.9" width="2.2" height="2.2" fill="#aaa"/>
<rect x="452.4" y="460.4" width="2.2" height="2.2" fill="#aaa"/>
<rect x="447.9" y="463.5" width="2.2" height="2.2" fill="#111"/>
<rect x="447.9" y="470.9" width="2.2" height="2.2" fill="#111"/>
<rect x="452.4" y="470.9" width="2.2" height="2.2" fill="#111"/>
<rect x="447.9" y="475.4" width="2.2" height="2.2" fill="#111"/>
<rect x="438.4" y="481.9" width="2.2" height="2.2" fill="#111"/>
<rect x="443.4" y="479.9" width="2.2" height="2.2" fill="#aaa"/>
<rect x="447.9" y="481.9" width="2.2" height="2.2" fill="#111"/>
<rect x="437.9" y="481.9" width="2.2" height="2.2" fill="#111"/>
<rect x="442.7" y="416.5" width="11.9" height="2.3" fill="#111"/>
<rect x="447.9" y="414.0" width="2.2" height="14.0" fill="#111"/>
<rect x="485.2" y="442.6" width="2.2" height="2.2" fill="#111"/>
<rect x="485.2" y="463.5" width="2.2" height="2.2" fill="#111"/>
<rect x="485.2" y="475.4" width="2.2" height="2.2" fill="#111"/>
<rect x="480.6" y="449.7" width="14.0" height="2.3" fill="#111"/>
<text x="331" y="497.5" font-size="8" font-weight="normal" fill="#111" text-anchor="end" textLength="81" lengthAdjust="spacingAndGlyphs" transform="rotate(-42 331 497.5)" stroke="#111" stroke-width="0.25">Healthy household contact</text>
<text x="372.5" y="497.5" font-size="8" font-weight="normal" fill="#111" text-anchor="end" textLength="66" lengthAdjust="spacingAndGlyphs" transform="rotate(-42 372.5 497.5)" stroke="#111" stroke-width="0.25">Household contacts</text>
<text x="409.5" y="498.5" font-size="8" font-weight="normal" fill="#111" text-anchor="end" textLength="22" lengthAdjust="spacingAndGlyphs" transform="rotate(-42 409.5 498.5)" stroke="#111" stroke-width="0.25">LTBI+</text>
<text x="449" y="498.5" font-size="8" font-weight="normal" fill="#111" text-anchor="end" textLength="16" lengthAdjust="spacingAndGlyphs" transform="rotate(-42 449 498.5)" stroke="#111" stroke-width="0.25">TB+</text>
<text x="487.5" y="499" font-size="8" font-weight="normal" fill="#111" text-anchor="end" textLength="47" lengthAdjust="spacingAndGlyphs" transform="rotate(-42 487.5 499)" stroke="#111" stroke-width="0.25">Other diseases</text>
</svg>
</body></html>
